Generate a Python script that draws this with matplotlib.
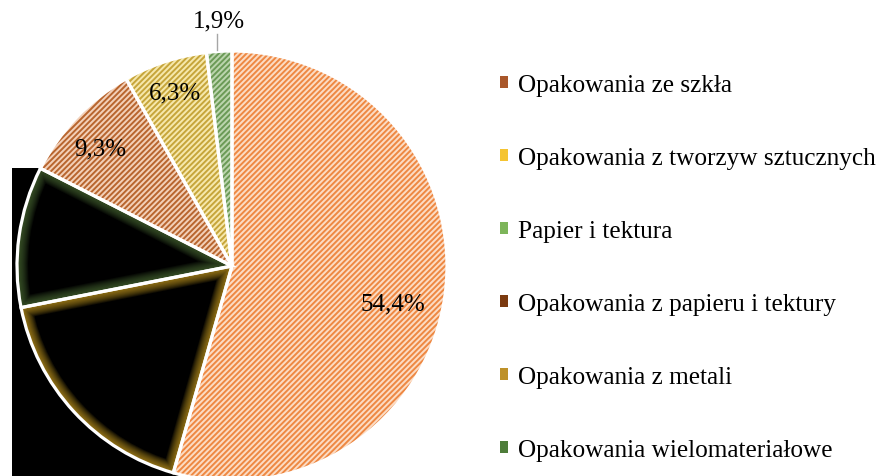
"""Pie chart of packaging waste shares (hatched Excel-style slices)."""

import matplotlib
matplotlib.use("Agg")
import matplotlib.pyplot as plt
from matplotlib.patches import Patch, Rectangle, Wedge
import numpy as np

categories = [
    "Opakowania ze szkła",
    "Opakowania z tworzyw sztucznych",
    "Papier i tektura",
    "Opakowania z papieru i tektury",
    "Opakowania z metali",
    "Opakowania wielomateriałowe",
]
shares = [54.4, 17.5, 10.6, 9.3, 6.3, 1.9]
value_labels = ["54,4%", None, None, "9,3%", "6,3%", "1,9%"]

legend_colors = ["#A9572A", "#F5C431", "#7DB55A", "#7B3A10", "#BE9129", "#4E7D3A"]
slice_bg = ["#FCDCC4", "#000000", "#000000", "#F3D0B8", "#F6E8AC", "#BCD5AE"]
slice_hatch = ["#EE8842", None, None, "#B8652E", "#C6A53A", "#6B9A56"]
glow_colors = [None, "#D4A824", "#52763A", None, None, None]

plt.rcParams["font.family"] = ["Liberation Serif", "DejaVu Serif"]
plt.rcParams["hatch.linewidth"] = 1.4

fig = plt.figure(figsize=(8.8, 4.77), dpi=100)
W, H = 880, 477
cx, cy, R = 232, 267, 215  # pie centre/radius in pixels (from top)
ax = fig.add_axes([(cx - R) / W, (H - cy - R) / H, 2 * R / W, 2 * R / H])
ax.axis("off")

# black rendering artefact behind the two dark slices
ax.add_patch(Rectangle((-1.025, -1.2), 1.025, 1.2 + 0.456, facecolor="black",
                       edgecolor="none", zorder=0, clip_on=False))

wedges, _ = ax.pie(shares, startangle=90, counterclock=False, radius=1,
                   wedgeprops=dict(linewidth=0))
for w, bg, hc, gc in zip(wedges, slice_bg, slice_hatch, glow_colors):
    w.set_facecolor(bg)
    w.set_zorder(1)
    if hc:
        w.set_edgecolor(hc)
        w.set_hatch("//////")
    if gc:
        # soft inner glow: stacked strokes clipped to the slice
        for lw in np.linspace(16, 2, 12):
            g = Wedge(w.center, w.r, w.theta1, w.theta2, fill=False,
                      edgecolor=gc, linewidth=lw, alpha=0.09, zorder=2)
            ax.add_patch(g)
            g.set_clip_path(w)

# white slice separators
outline, _ = ax.pie(shares, startangle=90, counterclock=False, radius=1,
                    wedgeprops=dict(fill=False, edgecolor="white", linewidth=2.3))
for w in outline:
    w.set_zorder(3)

label_r = [0.77, None, None, 0.82, 0.85, 1.15]
label_rot = [-5, 0, 0, 2, 0, 0]
for w, lab, r, rot in zip(wedges, value_labels, label_r, label_rot):
    if lab is None:
        continue
    mid = np.deg2rad((w.theta1 + w.theta2) / 2 + rot)
    x, y = r * np.cos(mid), r * np.sin(mid)
    if r > 1:
        ax.plot([x, x], [1.005, 1.08], color="#A6A6A6", lw=1, zorder=4, clip_on=False)
        x, y = x + 0.01, 1.14
    ax.text(x, y, lab, ha="center", va="center", fontsize=18, zorder=5)

ax.set_xlim(-1, 1)
ax.set_ylim(-1, 1)
ax.set_aspect("equal")

handles = [Patch(facecolor=c, edgecolor="none") for c in legend_colors]
fig.legend(handles, categories, loc="upper left", bbox_to_anchor=(500 / W, 1 - 75 / H),
           frameon=False, fontsize=18.2, handlelength=0.32, handleheight=0.32,
           handletextpad=0.4, labelspacing=2.02, borderpad=0, borderaxespad=0)

fig.savefig("out.png", dpi=100)
